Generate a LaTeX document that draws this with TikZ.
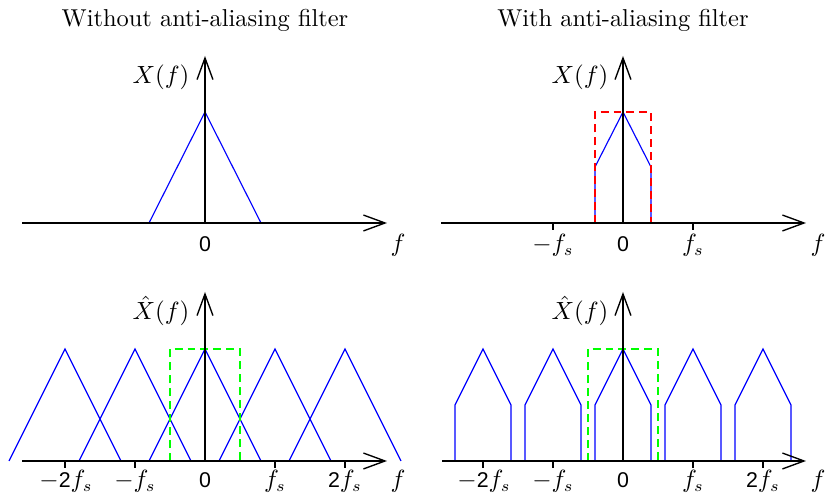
\documentclass[tikz,border=0pt]{standalone}
\usepackage{fontspec}
\newfontfamily\sfz{Liberation Sans}
\usetikzlibrary{arrows.meta}
\newcommand{\sz}[1]{{\fontsize{9.4}{11}\sfz #1}}
\begin{document}
\begin{tikzpicture}[x=0.44pt,y=-0.44pt,
  axis/.style={line width=0.6pt,-{Straight Barb[length=9.5pt,width=7pt,line width=0.6pt]}},
  spec/.style={blue,line width=0.5pt},
  filt/.style={red,dash pattern=on 3.5pt off 2.2pt,line width=0.5pt},
  ideal/.style={green,dash pattern=on 3.5pt off 2.2pt,line width=0.5pt},
  tick/.style={line width=0.6pt},
  lbl/.style={anchor=base,inner sep=0pt,font=\fontsize{10.6}{12}\selectfont},
  ttl/.style={anchor=base,inner sep=0pt,font=\fontsize{10.75}{13}\selectfont}]
\useasboundingbox (0,0) rectangle (825,497);
% ---------- titles
\node[ttl] (t1) at (205,27) {Without anti-aliasing filter};
\node[ttl] (t2) at (623,27) {With anti-aliasing filter};
% ---------- top left
\draw[spec] (149,223) -- (205,112) -- (261,223);
\coordinate (a1l) at (22,223); \coordinate (a1r) at (387,223);
\coordinate (a1o) at (205,223); \coordinate (a1t) at (205,56);
\draw[axis] (a1l) -- (a1r);
\draw[axis] (a1o) -- (a1t);
\node[lbl] (y1) at (161,84) {$X(f)$};
\node[lbl] (z1) at (205,252) {\sz{0}};
\node[lbl] (f1) at (398,252) {$f$};
% ---------- top right
\draw[spec] (595,223) -- (595,167) -- (623,112) -- (651,167) -- (651,223);
\draw[filt] (595,223) -- (595,112) -- (651,112) -- (651,223);
\coordinate (a2l) at (441,223); \coordinate (a2r) at (806,223);
\coordinate (a2o) at (623,223); \coordinate (a2t) at (623,56);
\draw[axis] (a2l) -- (a2r);
\draw[axis] (a2o) -- (a2t);
\draw[tick] (553,223) -- (553,230);
\draw[tick] (693,223) -- (693,230);
\node[lbl] (y2) at (580,84) {$X(f)$};
\node[lbl] (m2) at (553,252) {$-f_s$};
\node[lbl] (z2) at (623,252) {\sz{0}};
\node[lbl] (p2) at (693,252) {$f_s$};
\node[lbl] (f2) at (818,252) {$f$};
% ---------- bottom left
\foreach \c in {-2,...,2}
  \draw[spec] (205+70*\c-56,461) -- (205+70*\c,349) -- (205+70*\c+56,461);
\draw[ideal] (170,461) -- (170,349) -- (240,349) -- (240,461);
\coordinate (a3l) at (22,461); \coordinate (a3r) at (387,461);
\coordinate (a3o) at (205,461); \coordinate (a3t) at (205,292);
\draw[axis] (a3l) -- (a3r);
\draw[axis] (a3o) -- (a3t);
\foreach \c in {-2,-1,1,2}
  \draw[tick] (205+70*\c,461) -- (205+70*\c,468);
\node[lbl] (y3) at (161,320) {$\hat{X}(f)$};
\node[lbl] (m23) at (66,488) {$-$\sz{2}$f_s$};
\node[lbl] (m13) at (135,488) {$-f_s$};
\node[lbl] (z3) at (205,488) {\sz{0}};
\node[lbl] (p13) at (275,488) {$f_s$};
\node[lbl] (p23) at (345,488) {\sz{2}$f_s$};
\node[lbl] (f3) at (398,488) {$f$};
% ---------- bottom right
\foreach \c in {-2,...,2}
  \draw[spec] (623+70*\c-28,461) -- (623+70*\c-28,405) -- (623+70*\c,349)
     -- (623+70*\c+28,405) -- (623+70*\c+28,461);
\draw[ideal] (588,461) -- (588,349) -- (658,349) -- (658,461);
\coordinate (a4l) at (442,461); \coordinate (a4r) at (806,461);
\coordinate (a4o) at (623,461); \coordinate (a4t) at (623,292);
\draw[axis] (a4l) -- (a4r);
\draw[axis] (a4o) -- (a4t);
\foreach \c in {-2,-1,1,2}
  \draw[tick] (623+70*\c,461) -- (623+70*\c,468);
\node[lbl] (y4) at (580,320) {$\hat{X}(f)$};
\node[lbl] (m24) at (484,488) {$-$\sz{2}$f_s$};
\node[lbl] (m14) at (553,488) {$-f_s$};
\node[lbl] (z4) at (623,488) {\sz{0}};
\node[lbl] (p14) at (693,488) {$f_s$};
\node[lbl] (p24) at (763,488) {\sz{2}$f_s$};
\node[lbl] (f4) at (818,488) {$f$};
\end{tikzpicture}
\end{document}
